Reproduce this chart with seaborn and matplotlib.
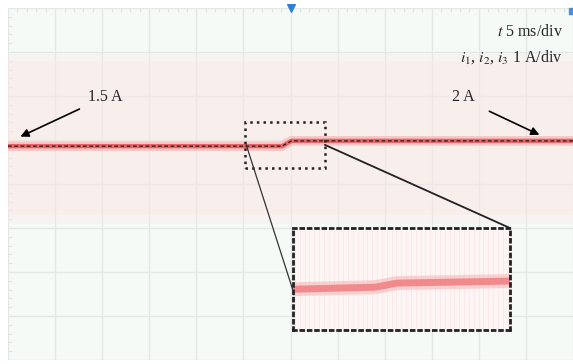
import numpy as np
import pandas as pd
import matplotlib.pyplot as plt
import seaborn as sns
from matplotlib.ticker import MultipleLocator
from matplotlib.patches import Rectangle

# scope trace, in divisions (12 x 8 screen)
trace_x = [0.0, 5.82, 6.02, 12.0]
trace_y = [4.86, 4.86, 4.98, 4.98]

# zoomed view inside the inset (fractions of the inset box)
zoom_x = [0.0, 0.38, 0.48, 1.0]
zoom_y = [0.40, 0.42, 0.46, 0.48]

labels = ['1.5 A', '2 A']
scale_text = [r'$t$ 5 ms/div', r'$i_1$, $i_2$, $i_3$ 1 A/div']

sns.set_style('white')
plt.rcParams['font.family'] = ['Liberation Serif', 'DejaVu Serif']
plt.rcParams['mathtext.fontset'] = 'stix'

bg = '#f6faf7'
grid_c = '#e2e9e5'

fig = plt.figure(figsize=(5.73, 3.64), dpi=100)
fig.patch.set_facecolor('white')
ax = fig.add_axes([8/573, 4/364, 565/573, 352/364])
ax.set_facecolor(bg)
ax.set_xlim(0, 12)
ax.set_ylim(0, 8)
ax.set_xticks(range(13))
ax.set_yticks(range(9))
ax.xaxis.set_minor_locator(MultipleLocator(0.2))
ax.yaxis.set_minor_locator(MultipleLocator(0.2))
ax.grid(True, color=grid_c, lw=1.0)
ax.tick_params(which='major', length=0, labelbottom=False, labelleft=False)
ax.tick_params(which='minor', direction='in', top=True, bottom=False,
               left=True, right=False, length=3, color='#dde5e0', width=0.8)
for s in ax.spines.values():
    s.set_visible(False)

# pink noise haze around the trace
ax.axhspan(3.3, 6.8, color='#fbe6e6', alpha=0.55, lw=0)
ax.axhspan(3.1, 3.3, color='#fbe6e6', alpha=0.3, lw=0)
ax.axhspan(6.8, 6.95, color='#fbe6e6', alpha=0.3, lw=0)

df = pd.DataFrame({'x': trace_x, 'y': trace_y})
sns.lineplot(data=df, x='x', y='y', ax=ax, color='#f5b0b0', lw=7, alpha=0.6)
sns.lineplot(data=df, x='x', y='y', ax=ax, color='#e65a5c', lw=3.2, alpha=0.9)
ax.plot(trace_x, trace_y, color='#2a1414', lw=0.9, ls=(0, (3, 2)))
ax.set_xlabel('')
ax.set_ylabel('')

# trigger markers
ax.scatter([6.0], [8.0], marker='v', s=30, color='#2f7fd6', clip_on=False, zorder=5)
ax.scatter([11.97], [7.93], marker='s', s=14, color='#4a90d9', clip_on=False, zorder=5)

# level annotations
ax.annotate('', xy=(0.21, 5.05), xytext=(1.57, 5.73),
            arrowprops=dict(arrowstyle='-|>', color='black', lw=1.2, mutation_scale=12))
ax.text(2.06, 5.98, labels[0], ha='center', va='center', fontsize=11.5)
ax.annotate('', xy=(11.34, 5.09), xytext=(10.17, 5.68),
            arrowprops=dict(arrowstyle='-|>', color='black', lw=1.2, mutation_scale=12))
ax.text(9.66, 5.98, labels[1], ha='center', va='center', fontsize=11.5)

ax.text(0.982, 0.932, scale_text[0], transform=ax.transAxes, ha='right', va='center', fontsize=11.5)
ax.text(0.982, 0.861, scale_text[1], transform=ax.transAxes, ha='right', va='center', fontsize=11.5)

# zoom box on main trace
ax.add_patch(Rectangle((5.03, 4.36), 1.70, 1.05, fill=False, ls=':', lw=1.8,
                       edgecolor='#222222', zorder=4))
ax.plot([5.06, 6.05], [4.89, 1.59], color='#333333', lw=0.9, zorder=4)
ax.plot([6.73, 10.66], [4.89, 3.0], color='#222222', lw=1.3, zorder=4)

# inset
ins = ax.inset_axes([0.504, 0.085, 0.384, 0.29])
ins.set_facecolor('#fdf4f4')
ins.set_xlim(0, 1)
ins.set_ylim(0, 1)
ins.set_xticks([])
ins.set_yticks([])
ins.vlines(np.linspace(0.01, 0.99, 45), 0.02, 0.98, color='#f7dada', lw=0.6, alpha=0.5)
zdf = pd.DataFrame({'x': zoom_x, 'y': zoom_y})
sns.lineplot(data=zdf, x='x', y='y', ax=ins, color='#f7b8b8', lw=10, alpha=0.6)
sns.lineplot(data=zdf, x='x', y='y', ax=ins, color='#ef7e80', lw=5, alpha=0.85)
ins.set_xlabel('')
ins.set_ylabel('')
for s in ins.spines.values():
    s.set_linestyle(':')
    s.set_linewidth(2.0)
    s.set_edgecolor('#222222')

fig.savefig('out.png', dpi=100)
